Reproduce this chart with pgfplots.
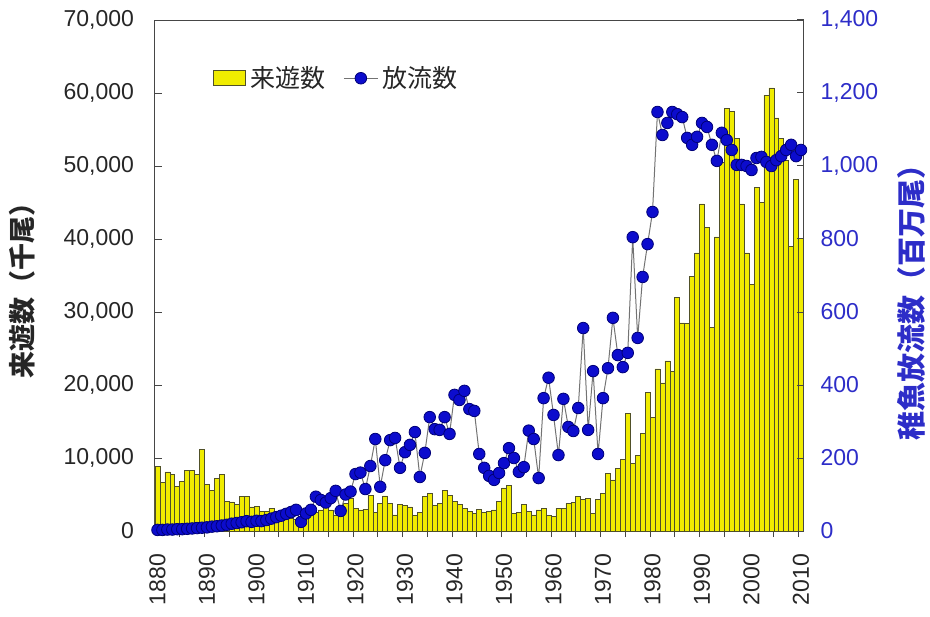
\documentclass[border=0pt]{standalone}
\usepackage{fontspec}
\setmainfont{Liberation Sans}
\newfontfamily\jp{Noto Sans CJK JP}
\usepackage{pgfplots}
\usepackage{pgfplotstable}
\pgfplotsset{compat=1.18}

\definecolor{baryellow}{RGB}{240,236,0}
\definecolor{baredge}{RGB}{80,80,40}
\definecolor{relblue}{RGB}{12,12,205}
\definecolor{reledge}{RGB}{0,0,120}
\definecolor{axisblue}{RGB}{45,45,200}
\definecolor{linegray}{RGB}{115,115,115}
\definecolor{framegray}{RGB}{70,70,70}

\pgfplotsset{
  boxlegend/.style={
    legend image code/.code={\draw[##1] (0pt,-3.8pt) rectangle (16pt,3.8pt);}},
}

% Returns (thousand fish)
\pgfplotstableread{
year catch
1880 8800
1881 6700
1882 8100
1883 7700
1884 6100
1885 6850
1886 8250
1887 8250
1888 7800
1889 11200
1890 6400
1891 5600
1892 7250
1893 7700
1894 4100
1895 4000
1896 3600
1897 4700
1898 4700
1899 3300
1900 3400
1901 2650
1902 2650
1903 3150
1904 2400
1905 2300
1906 2000
1907 1800
1908 1600
1909 1500
1910 1800
1911 2200
1912 2600
1913 2900
1914 3300
1915 2900
1916 2200
1917 2600
1918 3800
1919 4500
1920 3100
1921 2900
1922 3000
1923 4900
1924 2600
1925 3800
1926 4800
1927 3800
1928 2200
1929 3600
1930 3500
1931 3300
1932 2150
1933 2500
1934 4750
1935 5150
1936 3500
1937 3800
1938 5550
1939 4900
1940 4050
1941 3600
1942 3100
1943 2650
1944 2450
1945 3000
1946 2500
1947 2700
1948 2900
1949 4050
1950 5900
1951 6300
1952 2450
1953 2500
1954 3600
1955 2650
1956 2200
1957 2900
1958 3100
1959 2100
1960 2000
1961 3100
1962 3100
1963 3800
1964 3900
1965 4700
1966 4300
1967 4500
1968 2400
1969 4300
1970 5100
1971 7900
1972 7000
1973 8600
1974 9800
1975 16100
1976 9300
1977 10400
1978 13400
1979 19000
1980 15600
1981 22200
1982 20300
1983 23300
1984 21900
1985 32000
1986 28500
1987 28400
1988 34900
1989 38100
1990 44800
1991 41600
1992 27900
1993 40300
1994 50500
1995 57900
1996 57500
1997 53800
1998 44800
1999 38100
2000 33800
2001 47100
2002 45000
2003 59700
2004 60700
2005 56600
2006 53800
2007 50800
2008 39000
2009 48200
2010 40100
}\catchtable

% Fry released (million fish)
\pgfplotstableread{
year release
1880 3
1881 3
1882 4
1883 4
1884 5
1885 5
1886 6
1887 7
1888 8
1889 9
1890 10
1891 12
1892 13
1893 15
1894 17
1895 20
1896 22
1897 24
1898 27
1899 25
1900 28
1901 27
1902 30
1903 34
1904 38
1905 42
1906 47
1907 52
1908 58
1909 25
1910 48
1911 58
1912 94
1913 85
1914 78
1915 90
1916 110
1917 55
1918 100
1919 108
1920 156
1921 160
1922 115
1923 178
1924 252
1925 121
1926 194
1927 249
1928 255
1929 173
1930 216
1931 236
1932 271
1933 148
1934 214
1935 312
1936 279
1937 277
1938 312
1939 266
1940 373
1941 359
1942 384
1943 334
1944 329
1945 211
1946 173
1947 151
1948 140
1949 159
1950 186
1951 227
1952 200
1953 162
1954 175
1955 275
1956 252
1957 145
1958 364
1959 420
1960 318
1961 208
1962 362
1963 285
1964 274
1965 337
1966 556
1967 277
1968 438
1969 211
1970 364
1971 446
1972 584
1973 482
1974 449
1975 488
1976 805
1977 529
1978 696
1979 786
1980 874
1981 1148
1982 1085
1983 1118
1984 1148
1985 1142
1986 1134
1987 1077
1988 1058
1989 1080
1990 1118
1991 1107
1992 1058
1993 1014
1994 1091
1995 1071
1996 1044
1997 1003
1998 1003
1999 1000
2000 989
2001 1022
2002 1025
2003 1011
2004 1000
2005 1016
2006 1027
2007 1044
2008 1058
2009 1027
2010 1044
}\releasetable

\begin{document}
\begin{tikzpicture}
\pgfplotsset{
  common/.style={
    at={(0pt,0pt)}, anchor=south west,
    width=324.25pt, height=255.5pt, scale only axis,
    xmin=1879.5, xmax=2010.5,
    ymin=0,
    axis line style={framegray, line width=0.5pt},
    tick style={framegray, line width=0.5pt},
    /pgf/number format/assume math mode=true,
    /pgf/number format/1000 sep={,},
    tick label style={font=\fontsize{11.5}{12}\selectfont},
    ytick align=inside,
    major tick length=3.5pt,
    minor tick length=3pt,
  },
}
\begin{axis}[common,
  ymax=70000,
  ytick={0,10000,...,70000},
  ytick pos=left,
  scaled y ticks=false,
  yticklabel style={text=black!85, xshift=-7pt},
  xtick={1880,1890,...,2010},
  xtick pos=bottom,
  x tick label style={rotate=90, anchor=east, xshift=-4.5pt,
    /pgf/number format/1000 sep={}, text=black!85},
  minor xtick={1884.5,1889.5,...,2009.5},
  xtick align=outside,
  major x tick style={draw=none},
  ylabel={\jp\bfseries 来遊数（千尾）},
  ylabel style={at={(axis description cs:-0.205,0.483)}, anchor=center,
    font=\fontsize{13.5}{14}\selectfont, text=black!85},
]
\addplot[ybar, bar width=1, bar shift=0pt, fill=baryellow, draw=baredge,
  line width=0.3pt] table[x=year, y=catch] {\catchtable};
\end{axis}

\begin{axis}[common,
  ymax=1400,
  ytick={0,200,...,1400},
  axis y line*=right,
  axis x line=none,
  yticklabel style={text=axisblue, xshift=5pt},
  ylabel={\jp\bfseries 稚魚放流数（百万尾）},
  ylabel style={at={(axis description cs:1.167,0.46)}, anchor=center,
    rotate=0, font=\fontsize{14.5}{15}\selectfont, text=axisblue},
  legend style={draw=none, fill=none, at={(0.08,0.886)}, anchor=west,
    font=\jp\fontsize{12.5}{13}\selectfont, legend columns=2,
    /tikz/every even column/.append style={column sep=7pt},
    text=black!85},
]
\addlegendimage{boxlegend, fill=baryellow, draw=baredge, line width=0.5pt}
\addlegendentry{来遊数}
\addplot[color=linegray, line width=0.5pt, mark=*, mark size=2.9pt,
  mark options={fill=relblue, draw=reledge, line width=0.4pt}]
  table[x=year, y=release] {\releasetable};
\addlegendentry{放流数}
\end{axis}

\pgfresetboundingbox
\path[use as bounding box] (-77.5pt,-42.5pt) rectangle (387.5pt,265.5pt);
\end{tikzpicture}
\end{document}
